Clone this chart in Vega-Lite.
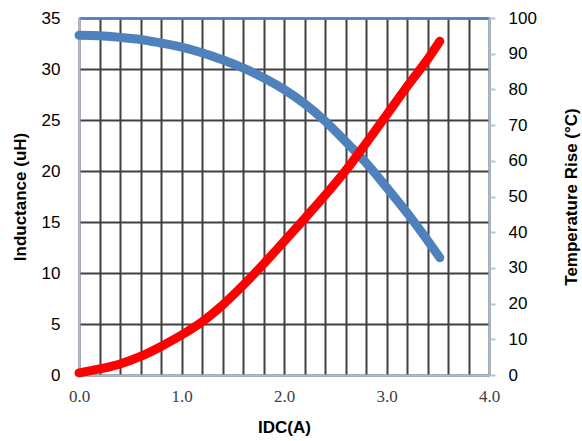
{
  "$schema": "https://vega.github.io/schema/vega-lite/v6.json",
  "autosize": {"type": "none"},
  "padding": {"left": 79, "top": 18, "right": 93, "bottom": 66},
  "width": 410,
  "height": 357,
  "background": "#ffffff",
  "config": {
    "view": {"stroke": null},
    "axis": {"labelFont": "Liberation Sans", "titleFont": "Liberation Sans", "titleFontWeight": "bold", "titleFontSize": 17, "titleColor": "#000000", "labelColor": "#000000", "labelFontSize": 17}
  },
  "datasets": {
    "ind": [
      {"I": 0.0, "L": 33.3}, {"I": 0.2, "L": 33.25}, {"I": 0.4, "L": 33.1}, {"I": 0.6, "L": 32.9},
      {"I": 0.8, "L": 32.55}, {"I": 1.0, "L": 32.15}, {"I": 1.2, "L": 31.6}, {"I": 1.4, "L": 30.9},
      {"I": 1.6, "L": 30.1}, {"I": 1.8, "L": 29.15}, {"I": 2.0, "L": 28.0}, {"I": 2.2, "L": 26.6},
      {"I": 2.4, "L": 24.9}, {"I": 2.6, "L": 22.9}, {"I": 2.8, "L": 20.8}, {"I": 3.0, "L": 18.4},
      {"I": 3.2, "L": 15.9}, {"I": 3.4, "L": 13.2}, {"I": 3.52, "L": 11.5}
    ],
    "temp": [
      {"I": 0.0, "T": 0.6}, {"I": 0.2, "T": 1.7}, {"I": 0.4, "T": 3.1}, {"I": 0.6, "T": 5.2},
      {"I": 0.8, "T": 8.0}, {"I": 1.0, "T": 11.2}, {"I": 1.2, "T": 14.9}, {"I": 1.4, "T": 19.6},
      {"I": 1.6, "T": 25.1}, {"I": 1.8, "T": 31.1}, {"I": 2.0, "T": 37.4}, {"I": 2.2, "T": 43.8},
      {"I": 2.4, "T": 50.3}, {"I": 2.6, "T": 57.2}, {"I": 2.8, "T": 64.9}, {"I": 3.0, "T": 72.8},
      {"I": 3.2, "T": 80.8}, {"I": 3.4, "T": 88.4}, {"I": 3.52, "T": 93.5}
    ]
  },
  "layer": [
    {
      "data": {"name": "ind"},
      "mark": {"type": "line", "color": "#4f81bd", "strokeWidth": 9, "strokeCap": "round", "interpolate": "monotone"},
      "encoding": {
        "x": {
          "field": "I", "type": "quantitative",
          "scale": {"domain": [0, 4], "nice": false},
          "axis": {
            "title": "IDC(A)", "orient": "bottom",
            "values": [0, 0.2, 0.4, 0.6, 0.8, 1, 1.2, 1.4, 1.6, 1.8, 2, 2.2, 2.4, 2.6, 2.8, 3, 3.2, 3.4, 3.6, 3.8, 4],
            "labelExpr": "abs(datum.value - round(datum.value)) < 0.001 ? format(datum.value, '.1f') : ''",
            "labelFont": "Liberation Serif", "labelFontSize": 17, "labelColor": "#404040",
            "labelPadding": 13, "ticks": false, "tickSize": 0,
            "grid": true, "gridColor": "#404040", "gridWidth": 2,
            "domainColor": "#a9bcd6", "domainWidth": 2,
            "titlePadding": 15, "labelOverlap": false, "labelBound": false, "labelFlush": false
          }
        },
        "y": {
          "field": "L", "type": "quantitative",
          "scale": {"domain": [0, 35], "nice": false},
          "axis": {
            "title": "Inductance (uH)", "orient": "left",
            "values": [0, 5, 10, 15, 20, 25, 30, 35],
            "ticks": false, "tickSize": 0, "labelPadding": 19,
            "grid": true, "gridColor": "#404040", "gridWidth": 2,
            "domainColor": "#a9bcd6", "domainWidth": 2,
            "titlePadding": 12
          }
        }
      }
    },
    {
      "data": {"name": "temp"},
      "mark": {"type": "line", "color": "#ff0000", "strokeWidth": 9, "strokeCap": "round", "interpolate": "monotone"},
      "encoding": {
        "x": {
          "field": "I", "type": "quantitative",
          "axis": {"orient": "top", "title": null, "labels": false, "ticks": false, "grid": false, "domainColor": "#4f81bd", "domainWidth": 2.5}
        },
        "y": {
          "field": "T", "type": "quantitative",
          "scale": {"domain": [0, 100], "nice": false},
          "axis": {
            "title": "Temperature Rise (°C)", "orient": "right",
            "values": [0, 10, 20, 30, 40, 50, 60, 70, 80, 90, 100],
            "ticks": true, "tickSize": 6, "tickColor": "#b8c4d4", "tickWidth": 2,
            "labelPadding": 13, "grid": false,
            "domainColor": "#a9bcd6", "domainWidth": 2,
            "titleAngle": 270, "titlePadding": 44
          }
        }
      }
    }
  ],
  "resolve": {"scale": {"y": "independent"}, "axis": {"x": "independent"}}
}
